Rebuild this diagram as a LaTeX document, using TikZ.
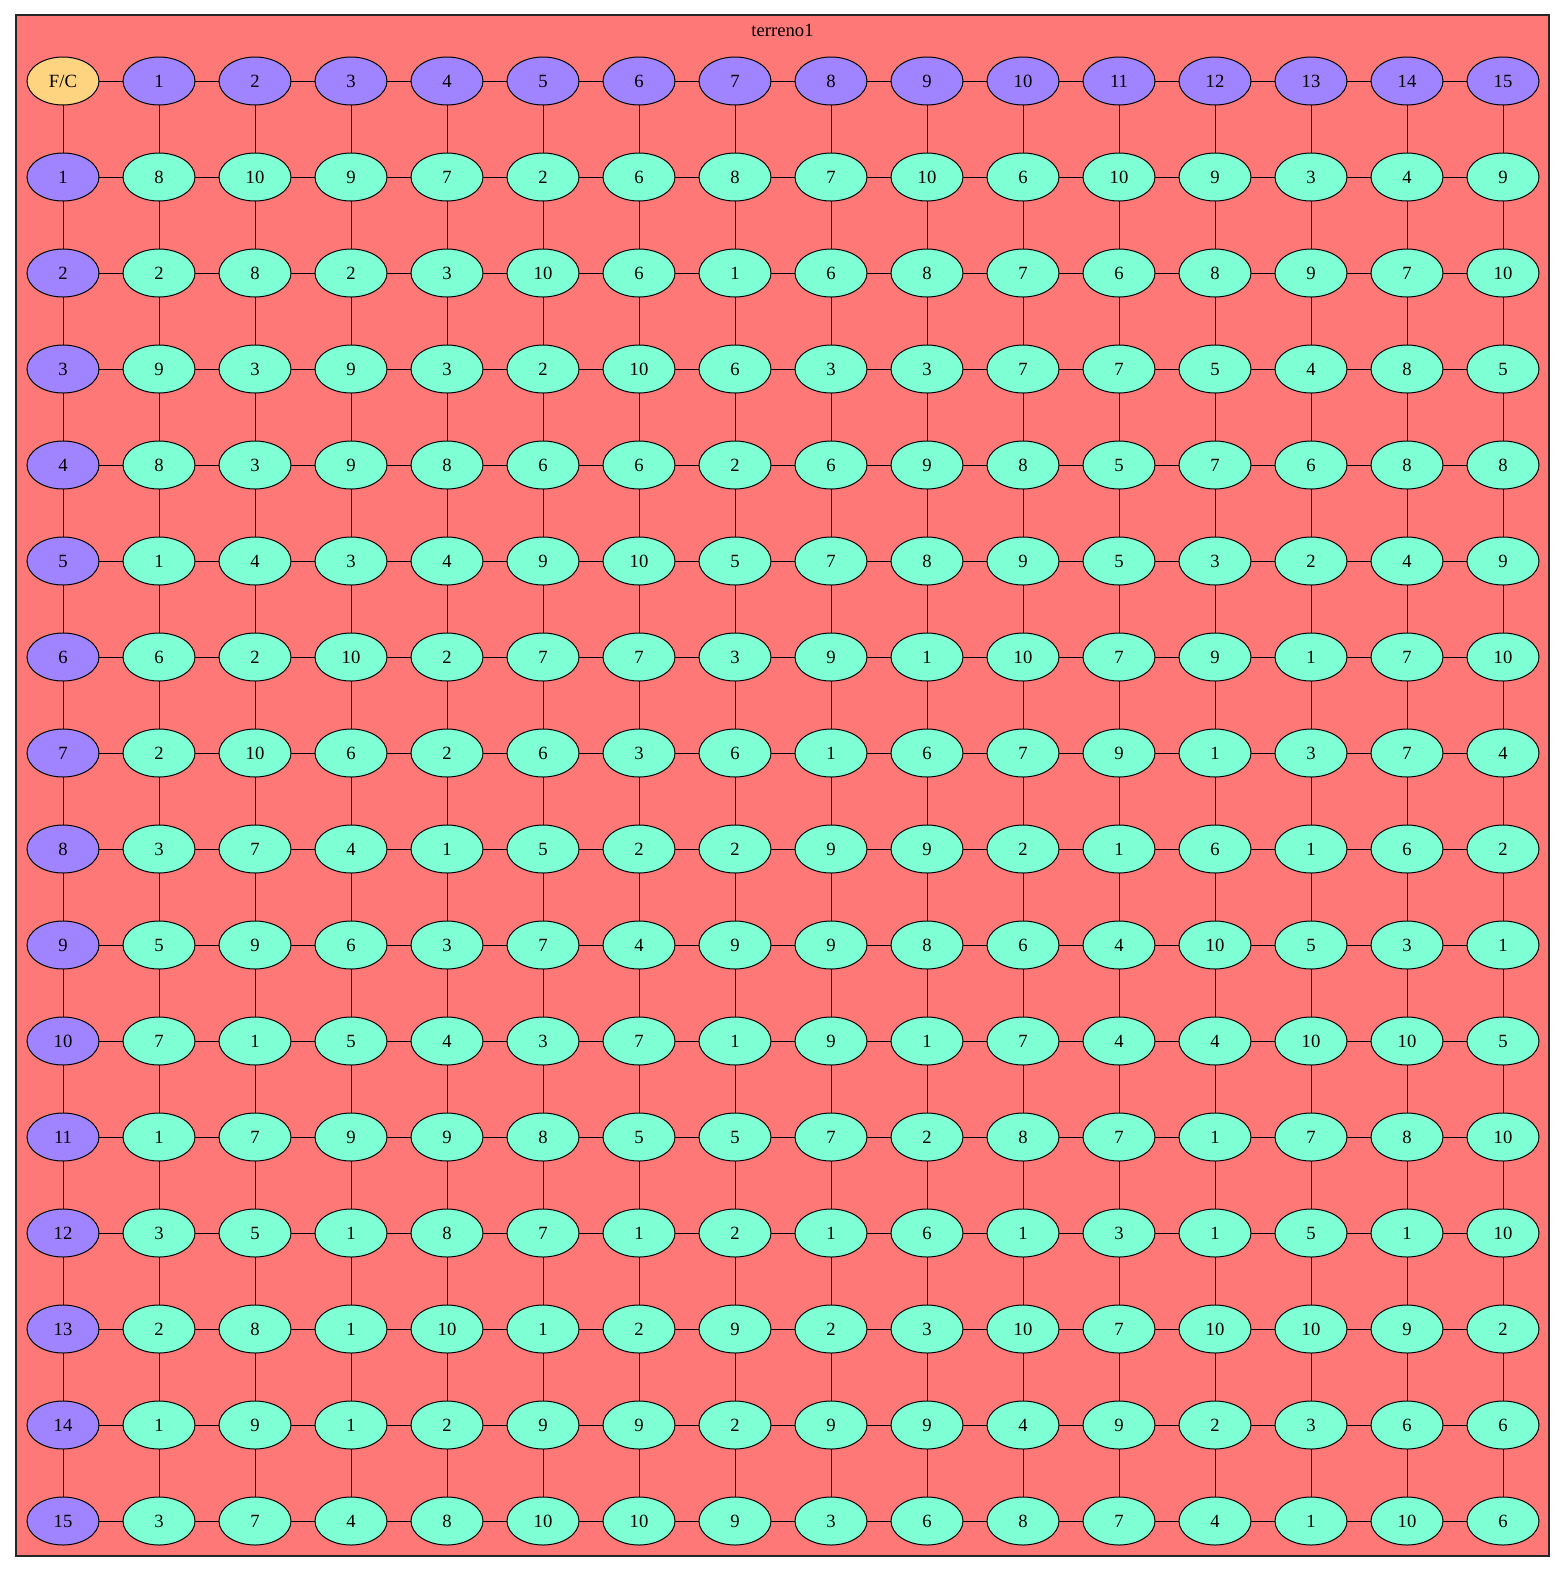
\documentclass[tikz,border=0pt]{standalone}
\usepackage{fontspec}
\setmainfont{Liberation Serif}
\usetikzlibrary{shapes.geometric}
\definecolor{bgsalmon}{HTML}{FF7878}
\definecolor{hdrpurple}{HTML}{A083FF}
\definecolor{cellgreen}{HTML}{7FFFD4}
\definecolor{cornerorange}{HTML}{FFD480}
\tikzset{
  cellbase/.style={ellipse, draw=black, line width=0.75pt, minimum width=54pt, minimum height=36pt, inner sep=0pt, outer sep=0pt, font=\fontsize{14}{17}\selectfont},
  cell/.style={cellbase, fill=cellgreen},
  hdr/.style={cellbase, fill=hdrpurple},
  corner/.style={cellbase, fill=cornerorange},
  link/.style={draw=black, line width=0.75pt}
}
\begin{document}
\begin{tikzpicture}[x=0.75pt, y=-0.75pt]
\useasboundingbox (0,0) rectangle (1565,1572);
\draw[fill=bgsalmon, draw=black!85, line width=0.9pt] (16,15) rectangle (1549,1556);
\node[font=\fontsize{14}{17}\selectfont] (title) at (782.5,30) {terreno1};
% corner and headers
\node[corner] (n-0-0) at (63,81) {F/C};
\foreach \c in {1,...,15} {
  \node[hdr] (n-0-\c) at ({63+96*\c},81) {\c};
  \node[hdr] (n-\c-0) at (63,{81+96*\c}) {\c};
}
\foreach \row [count=\r] in {
  {8,10,9,7,2,6,8,7,10,6,10,9,3,4,9},
  {2,8,2,3,10,6,1,6,8,7,6,8,9,7,10},
  {9,3,9,3,2,10,6,3,3,7,7,5,4,8,5},
  {8,3,9,8,6,6,2,6,9,8,5,7,6,8,8},
  {1,4,3,4,9,10,5,7,8,9,5,3,2,4,9},
  {6,2,10,2,7,7,3,9,1,10,7,9,1,7,10},
  {2,10,6,2,6,3,6,1,6,7,9,1,3,7,4},
  {3,7,4,1,5,2,2,9,9,2,1,6,1,6,2},
  {5,9,6,3,7,4,9,9,8,6,4,10,5,3,1},
  {7,1,5,4,3,7,1,9,1,7,4,4,10,10,5},
  {1,7,9,9,8,5,5,7,2,8,7,1,7,8,10},
  {3,5,1,8,7,1,2,1,6,1,3,1,5,1,10},
  {2,8,1,10,1,2,9,2,3,10,7,10,10,9,2},
  {1,9,1,2,9,9,2,9,9,4,9,2,3,6,6},
  {3,7,4,8,10,10,9,3,6,8,7,4,1,10,6}} {
  \foreach \v [count=\c] in \row {
    \node[cell] (n-\r-\c) at ({63+96*\c},{81+96*\r}) {\v};
  }
}
% connectors
\foreach \r in {0,...,15} {
  \foreach \c [count=\d from 1] in {0,...,14} {
    \draw[link] (n-\r-\c) -- (n-\r-\d);
    \draw[link] (n-\c-\r) -- (n-\d-\r);
  }
}
\end{tikzpicture}
\end{document}
